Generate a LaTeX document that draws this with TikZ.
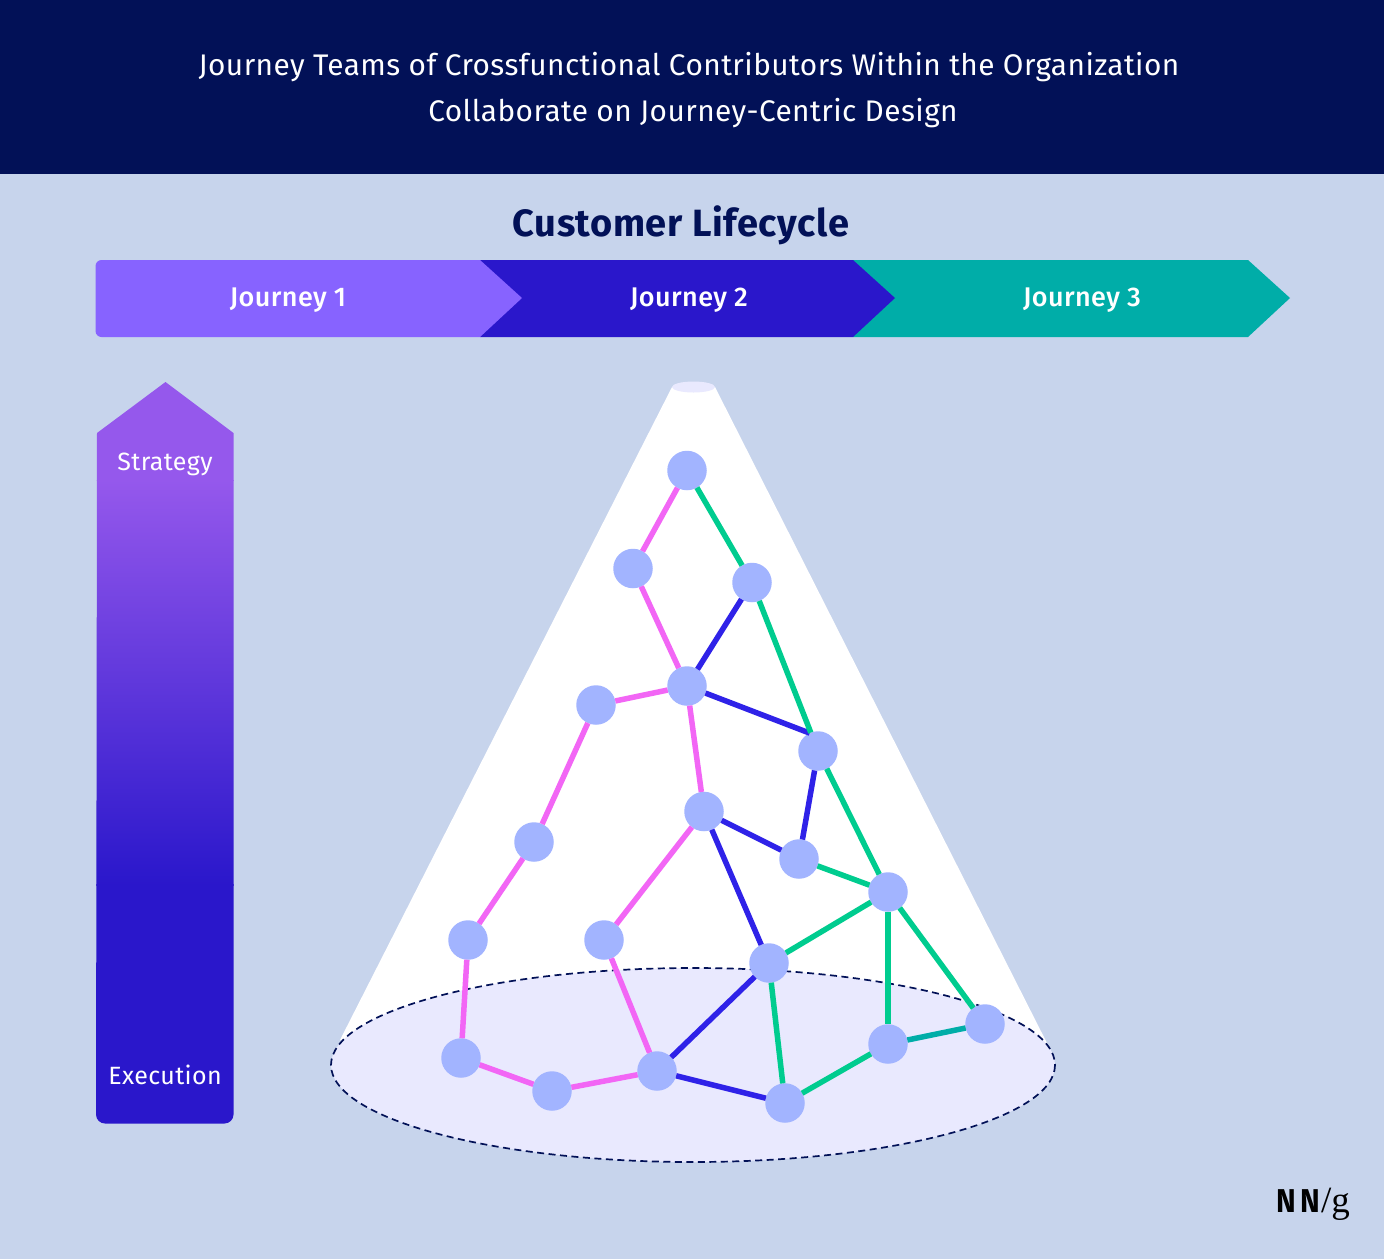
\documentclass[tikz,border=0pt]{standalone}
\usepackage{fontspec}
\usepackage{xcolor}
\setmainfont{Fira Sans}[LetterSpace=1.5]
\newfontfamily\labelmedium{Fira Sans Medium}[LetterSpace=1.5]
\newfontfamily\logobold{Fira Sans}[FakeStretch=0.9, LetterSpace=14]
\newfontfamily\logoserif{Liberation Serif}
\usetikzlibrary{positioning, calc}

\definecolor{bgblue}{HTML}{C7D4EC}
\definecolor{headnavy}{HTML}{021157}
\definecolor{journeyone}{HTML}{8763FF}
\definecolor{journeytwo}{HTML}{2A17CB}
\definecolor{journeythree}{HTML}{00ADA8}
\definecolor{arrowtop}{HTML}{9558EC}
\definecolor{floorfill}{HTML}{E9E9FE}
\definecolor{dotblue}{HTML}{A2B4FF}
\definecolor{linkpink}{HTML}{F266F5}
\definecolor{linkblue}{HTML}{2F22E8}
\definecolor{linkgreen}{HTML}{00CC8F}

\tikzset{
    dotnode/.style={circle, fill=dotblue, inner sep=0pt, outer sep=0pt, minimum size=39.5pt},
    pinklink/.style={line width=5.5pt, linkpink},
    bluelink/.style={line width=5.5pt, linkblue},
    greenlink/.style={line width=5.5pt, linkgreen},
    teallink/.style={line width=5.5pt, journeythree},
    titlelabel/.style={white, font=\fontsize{29.8}{34}\selectfont, inner sep=0pt, anchor=base},
    journeylabel/.style={white, font=\fontsize{27}{30}\labelmedium\selectfont, inner sep=0pt, anchor=base},
    levellabel/.style={white, font=\fontsize{25}{30}\selectfont, inner sep=0pt, anchor=base}
}

\begin{document}
\begin{tikzpicture}[x=1pt, y=-1pt]
    \useasboundingbox (0,0) rectangle (1384,1259);

    % Background and header
    \fill[bgblue] (0,0) rectangle (1384,1259);
    \fill[headnavy] (0,0) rectangle (1384,174);
    \node[titlelabel] (titleA) at (689,75) {Journey Teams of Crossfunctional Contributors Within the Organization};
    \node[titlelabel] (titleB) at (693,121) {Collaborate on Journey-Centric Design};
    \node[headnavy, font=\fontsize{38}{44}\bfseries\selectfont, inner sep=0pt, anchor=base] (lifecycle) at (681,236) {Customer Lifecycle};

    % Journey chevrons
    \fill[journeythree] (853,260) -- (1248,260) -- (1290,298) -- (1248,337) -- (853,337) -- cycle;
    \fill[journeytwo] (480,260) -- (853,260) -- (895,298) -- (853,337) -- (480,337) -- cycle;
    \fill[journeyone] (300,337) [rounded corners=6pt] -- (95.5,337) -- (95.5,260) -- (300,260)
        [sharp corners] -- (480,260) -- (522,298) -- (480,337) -- (300,337);
    \node[journeylabel] (journeyA) at (288,306) {Journey 1};
    \node[journeylabel] (journeyB) at (689,306) {Journey 2};
    \node[journeylabel] (journeyC) at (1082,306) {Journey 3};

    % Strategy to execution arrow
    \begin{scope}
        \clip (165.5,382) -- (233.5,433) -- (233.5,800) [rounded corners=9pt] -- (233.5,1123.5) -- (96,1123.5) -- (96.5,800) [sharp corners] -- (97,433) -- cycle;
        \shade[top color=arrowtop, bottom color=journeytwo] (90,480) rectangle (240,885);
        \fill[arrowtop] (90,375) rectangle (240,481);
        \fill[journeytwo] (90,884) rectangle (240,1130);
    \end{scope}
    \node[levellabel] (strategy) at (165,470) {Strategy};
    \node[levellabel] (execution) at (165,1084) {Execution};

    % Light cone and floor
    \fill[white] (672,387) -- (715,387) -- (1052,1053) -- (340,1040) -- cycle;
    \fill[floorfill] (693.5,387) ellipse (21.5 and 5.5);
    \draw[headnavy, fill=floorfill, line width=1.7pt, dash pattern=on 7pt off 4.5pt] (693,1065) ellipse (362 and 97);

    % Team members
    \node[dotnode] (a) at (687,470.5) {};
    \node[dotnode] (b) at (633,568.5) {};
    \node[dotnode] (c) at (752,582.5) {};
    \node[dotnode] (d) at (687,686) {};
    \node[dotnode] (e) at (596,705) {};
    \node[dotnode] (f) at (818,751) {};
    \node[dotnode] (g) at (704,811.5) {};
    \node[dotnode] (h) at (534,842) {};
    \node[dotnode] (i) at (799,859) {};
    \node[dotnode] (j) at (888,892) {};
    \node[dotnode] (k) at (468,940) {};
    \node[dotnode] (l) at (604,940) {};
    \node[dotnode] (m) at (769,963) {};
    \node[dotnode] (n) at (985,1024) {};
    \node[dotnode] (o) at (888,1044) {};
    \node[dotnode] (p) at (461,1058) {};
    \node[dotnode] (q) at (552,1091) {};
    \node[dotnode] (r) at (657,1071) {};
    \node[dotnode] (s) at (785,1103) {};

    % Pink links
    \draw[pinklink] (a) -- (b);
    \draw[pinklink] (b) -- (d);
    \draw[pinklink] (d) -- (e);
    \draw[pinklink] (d) -- (g);
    \draw[pinklink] (e) -- (h);
    \draw[pinklink] (h) -- (k);
    \draw[pinklink] (k) -- (p);
    \draw[pinklink] (p) -- (q);
    \draw[pinklink] (q) -- (r);
    \draw[pinklink] (g) -- (l);
    \draw[pinklink] (l) -- (r);

    % Blue links
    \draw[bluelink] (c) -- (d);
    \draw[bluelink] (d) -- (f.115);
    \draw[bluelink] (f) -- (i);
    \draw[bluelink] (g) -- (i);
    \draw[bluelink] (g) -- (m);
    \draw[bluelink] (m) -- (r);
    \draw[bluelink] (r) -- (s);

    % Green links
    \draw[greenlink] (a) -- (c);
    \draw[greenlink] (c) -- (f);
    \draw[greenlink] (f) -- (j);
    \draw[greenlink] (i) -- (j);
    \draw[greenlink] (j) -- (m);
    \draw[greenlink] (j) -- (o);
    \draw[greenlink] (j) -- (n);
    \draw[greenlink] (m) -- (s);
    \draw[greenlink] (s) -- (o);
    \draw[teallink] (o) -- (n);

    % Logo
    \node[black, font=\fontsize{33}{36}\logobold\bfseries\selectfont, inner sep=0pt, anchor=base west] (logoNN) at (1276,1212) {NN};
    \node[black, font=\fontsize{37}{40}\logoserif\selectfont, inner sep=0pt, anchor=base east] (logog) at (1350,1212) {/g};
\end{tikzpicture}
\end{document}
